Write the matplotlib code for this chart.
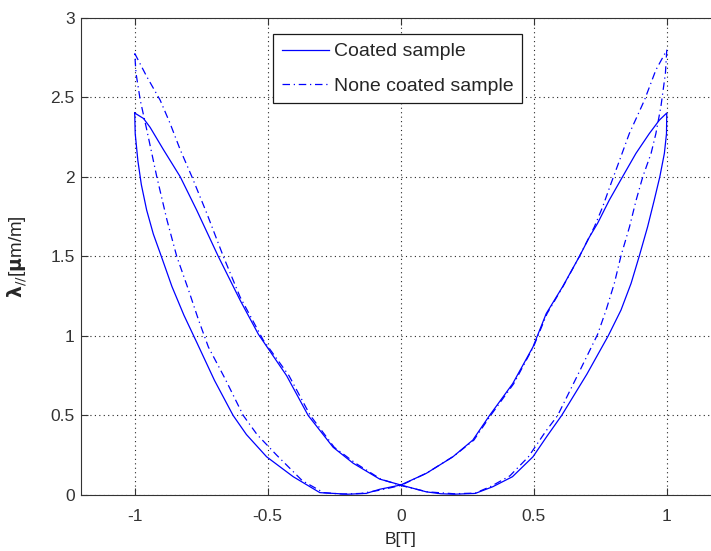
import numpy as np
import matplotlib
matplotlib.use("Agg")
import matplotlib.pyplot as plt

plt.rcParams['font.family'] = ['Liberation Sans', 'DejaVu Sans']
plt.rcParams['mathtext.fontset'] = 'dejavusans'
plt.rcParams['axes.unicode_minus'] = False

# coated sample, B going up (-1 -> 1)
coated_b_up = [-1.0, -0.967, -0.942, -0.892, -0.829, -0.767, -0.686, -0.604, -0.535,
               -0.429, -0.348, -0.254, -0.179, -0.079, 0.0, 0.096, 0.15, 0.2, 0.28,
               0.346, 0.42, 0.497, 0.55, 0.605, 0.70, 0.78, 0.828, 0.866, 0.897,
               0.928, 0.953, 0.974, 0.991, 0.999, 1.0]
coated_l_up = [2.40, 2.366, 2.31, 2.17, 2.0, 1.79, 1.50, 1.225, 1.01,
               0.75, 0.5, 0.3, 0.2, 0.10, 0.063, 0.02, 0.008, 0.005, 0.01,
               0.052, 0.115, 0.24, 0.37, 0.5, 0.76, 1.0, 1.162, 1.33, 1.503,
               1.685, 1.853, 2.0, 2.146, 2.27, 2.40]
# coated sample, B going down (1 -> -1)
coated_b_down = [1.0, 0.972, 0.934, 0.884, 0.834, 0.784, 0.74, 0.709, 0.672, 0.609,
                 0.547, 0.497, 0.421, 0.334, 0.271, 0.196, 0.096, 0.0, -0.079, -0.13,
                 -0.2, -0.304, -0.404, -0.504, -0.58, -0.63, -0.70, -0.767, -0.815,
                 -0.86, -0.9, -0.93, -0.955, -0.975, -0.988, -0.998, -1.0]
coated_l_down = [2.40, 2.355, 2.27, 2.146, 2.0, 1.853, 1.707, 1.62, 1.50, 1.31,
                 1.14, 0.93, 0.70, 0.5, 0.345, 0.24, 0.136, 0.063, 0.036, 0.01,
                 0.005, 0.015, 0.115, 0.24, 0.38, 0.5, 0.72, 0.96, 1.13,
                 1.31, 1.50, 1.64, 1.79, 1.95, 2.10, 2.27, 2.40]

# none coated sample
bare_b_up = [-1.0, -0.955, -0.904, -0.867, -0.829, -0.785, -0.729, -0.667, -0.604,
             -0.517, -0.42, -0.34, -0.25, -0.17, -0.075, 0.0, 0.1, 0.2, 0.28, 0.34,
             0.41, 0.48, 0.545, 0.59, 0.67, 0.74, 0.772, 0.803, 0.828, 0.86,
             0.885, 0.91, 0.941, 0.959, 0.978, 0.995, 1.0]
bare_l_up = [2.775, 2.63, 2.48, 2.335, 2.17, 2.0, 1.77, 1.50, 1.245,
             0.974, 0.75, 0.5, 0.3, 0.2, 0.10, 0.06, 0.02, 0.008, 0.012, 0.055,
             0.12, 0.24, 0.4, 0.5, 0.77, 1.009, 1.162, 1.33, 1.503, 1.685,
             1.853, 2.0, 2.146, 2.27, 2.44, 2.65, 2.795]
bare_b_down = [1.0, 0.959, 0.916, 0.859, 0.822, 0.79, 0.759, 0.728, 0.672, 0.61,
               0.55, 0.5, 0.425, 0.338, 0.275, 0.2, 0.1, 0.0, -0.08, -0.15, -0.22,
               -0.29, -0.37, -0.466, -0.54, -0.592, -0.66, -0.723, -0.76, -0.798,
               -0.842, -0.879, -0.917, -0.954, -0.979, -0.995, -1.0]
bare_l_down = [2.795, 2.67, 2.48, 2.27, 2.10, 1.955, 1.81, 1.685, 1.5, 1.31,
               1.14, 0.935, 0.70, 0.5, 0.345, 0.245, 0.14, 0.06, 0.03, 0.01, 0.006,
               0.015, 0.09, 0.25, 0.38, 0.5, 0.73, 0.93, 1.10, 1.29,
               1.50, 1.73, 2.0, 2.29, 2.48, 2.65, 2.775]

x_ticks = [-1, -0.5, 0, 0.5, 1]
x_labels = ['-1', '-0.5', '0', '0.5', '1']
y_ticks = [0, 0.5, 1, 1.5, 2, 2.5, 3]
y_labels = ['0', '0.5', '1', '1.5', '2', '2.5', '3']

fig = plt.figure(figsize=(7.11, 5.51), dpi=100)
ax = fig.add_axes([0.1146, 0.1016, 0.898, 0.8666])

blue = (0, 0, 1)
ax.plot(coated_b_up + coated_b_down, coated_l_up + coated_l_down,
        color=blue, lw=0.9, label='Coated sample')
ax.plot(bare_b_up + bare_b_down, bare_l_up + bare_l_down,
        color=blue, lw=0.9, dashes=(6, 3, 1, 3), label='None coated sample')

ax.set_xlim(-1.2, 1.2)
ax.set_ylim(0, 3)
ax.set_xticks(x_ticks)
ax.set_xticklabels(x_labels)
ax.set_yticks(y_ticks)
ax.set_yticklabels(y_labels)
ax.tick_params(direction='in', top=True, right=True, length=5, width=0.8,
               labelsize=12.5, colors='0.2')
ax.tick_params(axis='x', pad=10)
ax.tick_params(axis='y', pad=5)
for s in ax.spines.values():
    s.set_color('0.2')
    s.set_linewidth(0.8)
ax.grid(True, color='0.15', linestyle=(0, (1, 3)), linewidth=0.8)

ax.set_xlabel('B[T]', fontsize=12.5, color='0.15', labelpad=6)
ax.set_ylabel(r'$\mathbf{\lambda}_{//}$[$\mathbf{\mu}$m/m]', fontsize=13.5,
              color='0.15', labelpad=15)

leg = ax.legend(loc='upper left', bbox_to_anchor=(0.3005, 0.9654), borderaxespad=0,
                fontsize=14, fancybox=False, framealpha=1, edgecolor='0.1',
                handlelength=2.4, handletextpad=0.25, labelspacing=0.85, borderpad=0.45)
leg.get_frame().set_linewidth(0.9)
for t in leg.get_texts():
    t.set_color('0.15')

fig.savefig('out.png', dpi=100)
